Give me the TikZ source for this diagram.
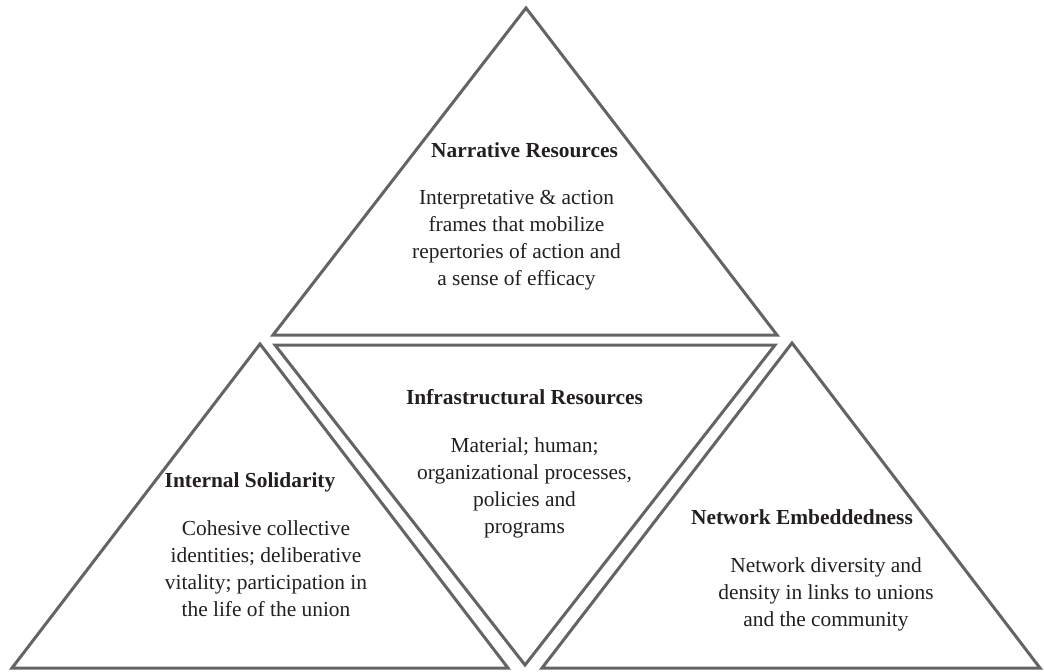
\documentclass[tikz,border=0pt]{standalone}
\usepackage{fontspec}
\setmainfont{Liberation Serif}
\usepackage{tikz}
\usetikzlibrary{positioning}
\definecolor{framegray}{RGB}{100,100,100}
\definecolor{inkgray}{RGB}{35,31,32}
\tikzstyle{facet} = [draw=framegray, line width=1.5pt, line join=miter]
\tikzstyle{heading} = [font=\fontsize{10.7}{13.5}\selectfont\bfseries, text=inkgray,
    inner sep=0pt, text depth=0pt, anchor=base]
\tikzstyle{blurb} = [font=\fontsize{10.7}{13.5}\selectfont, text=inkgray,
    align=center, inner sep=0pt, node distance=16.2pt]

\begin{document}
\begin{tikzpicture}[x=0.5pt,y=-0.5pt]
    \useasboundingbox (0,0) rectangle (1044,671);
    % Draw triangles
    \draw[facet] (526,8) -- (273,335) -- (777,335) -- cycle;
    \draw[facet] (260,344) -- (12,668) -- (508,668) -- cycle;
    \draw[facet] (275,345) -- (775,345) -- (525,665) -- cycle;
    \draw[facet] (792,343) -- (542,668) -- (1040,668) -- cycle;

    % Place nodes
    \node[heading] (narrative) at (524.5,157) {Narrative Resources};
    \node[blurb, below=of narrative, xshift=-4pt] (narrativetext) {Interpretative \& action\\frames that mobilize\\repertories of action and\\a sense of efficacy};

    \node[heading] (infra) at (524.5,404) {Infrastructural Resources};
    \node[blurb, below=of infra] (infratext) {Material; human;\\organizational processes,\\policies and\\programs};

    \node[heading] (internal) at (250,487) {Internal Solidarity};
    \node[blurb, below=of internal, xshift=8pt] (internaltext) {Cohesive collective\\identities; deliberative\\vitality; participation in\\the life of the union};

    \node[heading] (network) at (802,524) {Network Embeddedness};
    \node[blurb, below=of network, xshift=12pt] (networktext) {Network diversity and\\density in links to unions\\and the community};
\end{tikzpicture}
\end{document}
